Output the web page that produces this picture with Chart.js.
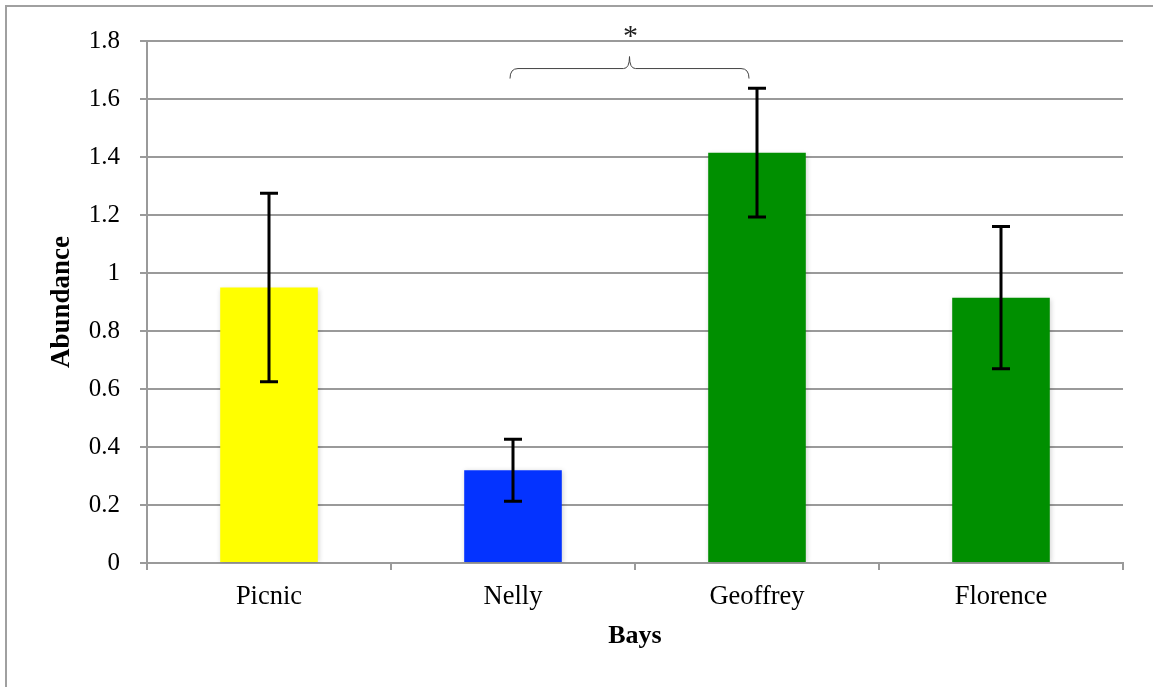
<!DOCTYPE html>
<html lang="en">
<head>
<meta charset="UTF-8" />
<title>Abundance by bay</title>
<script src="https://cdn.jsdelivr.net/npm/chart.js"></script>
<style>
  html, body { margin: 0; padding: 0; background: #fff; }
  #wrap { position: relative; width: 1153px; height: 687px; overflow: hidden; }
  #frame {
    position: absolute; left: 5px; top: 5px; right: -10px; bottom: -10px;
    border-left: 2px solid #a0a0a0; border-top: 2px solid #a0a0a0;
    pointer-events: none;
  }
  canvas { position: absolute; left: 0; top: 0; }
</style>
</head>
<body>
<div id="wrap">
  <canvas id="chart" width="1153" height="687"></canvas>
  <div id="frame"></div>
</div>
<script>
const bays = ["Picnic", "Nelly", "Geoffrey", "Florence"];
const abundance = [0.95, 0.32, 1.415, 0.915];
const errors = [0.325, 0.107, 0.222, 0.245];
const barColors = ["#FFFF00", "#0433FF", "#008F00", "#008F00"];
// significance bracket between Nelly and Geoffrey
const sigPair = [1, 2];
const sigLevel = 1.705;

const FONT = "'Liberation Serif', 'Times New Roman', serif";

// soft shadow under the bars, like the original
const barShadow = {
  id: "barShadow",
  beforeDatasetsDraw(chart) {
    const ctx = chart.ctx;
    ctx.save();
    ctx.shadowColor = "rgba(0,0,0,0.18)";
    ctx.shadowBlur = 5;
    ctx.shadowOffsetX = 1;
    ctx.shadowOffsetY = 1;
  },
  afterDatasetsDraw(chart) {
    chart.ctx.restore();
  }
};

const errorBars = {
  id: "errorBars",
  afterDatasetsDraw(chart) {
    const ctx = chart.ctx;
    const y = chart.scales.y;
    const meta = chart.getDatasetMeta(0);
    ctx.save();
    ctx.strokeStyle = "#000";
    ctx.lineWidth = 3;
    meta.data.forEach((bar, i) => {
      const x = Math.round(bar.x);
      const top = y.getPixelForValue(abundance[i] + errors[i]);
      const bot = y.getPixelForValue(abundance[i] - errors[i]);
      ctx.beginPath();
      ctx.moveTo(x, top);
      ctx.lineTo(x, bot);
      ctx.moveTo(x - 9, top);
      ctx.lineTo(x + 9, top);
      ctx.moveTo(x - 9, bot);
      ctx.lineTo(x + 9, bot);
      ctx.stroke();
    });
    ctx.restore();
  }
};

const sigBracket = {
  id: "sigBracket",
  afterDraw(chart) {
    const ctx = chart.ctx;
    const xs = chart.scales.x;
    const ys = chart.scales.y;
    const x1 = xs.getPixelForValue(sigPair[0]) - 3;
    const x2 = xs.getPixelForValue(sigPair[1]) - 8;
    const yb = ys.getPixelForValue(sigLevel);
    const xm = (x1 + x2) / 2;
    ctx.save();
    ctx.strokeStyle = "#444";
    ctx.lineWidth = 1;
    ctx.beginPath();
    ctx.moveTo(x1, yb + 10);
    ctx.quadraticCurveTo(x1, yb, x1 + 8, yb);
    ctx.lineTo(xm - 6, yb);
    ctx.quadraticCurveTo(xm, yb, xm, yb - 12);
    ctx.quadraticCurveTo(xm, yb, xm + 6, yb);
    ctx.lineTo(x2 - 8, yb);
    ctx.quadraticCurveTo(x2, yb, x2, yb + 10);
    ctx.stroke();
    ctx.fillStyle = "#222";
    ctx.font = "30px " + FONT;
    ctx.textAlign = "center";
    ctx.textBaseline = "middle";
    ctx.fillText("*", xm + 1, yb - 31);
    ctx.restore();
  }
};

new Chart(document.getElementById("chart"), {
  type: "bar",
  data: {
    labels: bays,
    datasets: [{
      data: abundance,
      backgroundColor: barColors,
      borderWidth: 0,
      barPercentage: 0.4,
      categoryPercentage: 1.0
    }]
  },
  options: {
    responsive: false,
    animation: false,
    devicePixelRatio: 1,
    layout: { padding: { top: 41, right: 30, left: 0, bottom: 0 } },
    plugins: {
      legend: { display: false },
      tooltip: { enabled: false }
    },
    scales: {
      x: {
        grid: {
          drawOnChartArea: false,
          drawTicks: true,
          tickLength: 7,
          color: "#9a9a9a",
          lineWidth: 2
        },
        border: { color: "#9a9a9a", width: 2 },
        ticks: {
          color: "#000",
          padding: 11,
          font: { family: FONT, size: 26.5 }
        },
        title: {
          display: true,
          text: "Bays",
          color: "#000",
          font: { family: FONT, size: 26, weight: "bold" },
          padding: { top: 0, bottom: 35 }
        },
        afterFit(scale) { scale.height = 124; }
      },
      y: {
        min: 0,
        max: 1.8,
        ticks: {
          stepSize: 0.2,
          color: "#000",
          padding: 20,
          font: { family: FONT, size: 25 },
          callback: (v) => String(Math.round(v * 10) / 10)
        },
        grid: {
          color: "#9a9a9a",
          lineWidth: 2,
          tickLength: 7
        },
        border: { color: "#9a9a9a", width: 2 },
        title: {
          display: true,
          text: "Abundance",
          color: "#000",
          font: { family: FONT, size: 27, weight: "bold" },
          padding: { top: 46, bottom: 0 }
        },
        afterFit(scale) { scale.width = 147; }
      }
    }
  },
  plugins: [barShadow, errorBars, sigBracket]
});
</script>
</body>
</html>
